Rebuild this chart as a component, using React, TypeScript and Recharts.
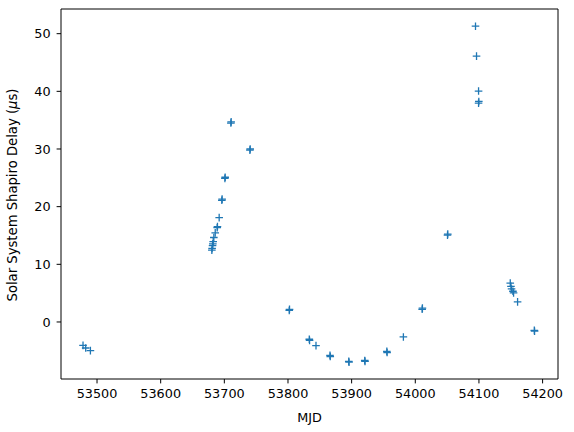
import React from 'react';
import { ScatterChart, Scatter, XAxis, YAxis, Label, ReferenceLine } from 'recharts';

// MJD of each TOA and its solar system Shapiro delay (microseconds)
const mjd = [
  53478.0, 53482.2, 53489.6,
  53680.4, 53680.8, 53681.5, 53681.9, 53682.5, 53683.5, 53685.7, 53688.8, 53689.2,
  53691.9, 53696.1, 53696.5, 53700.9, 53701.3, 53710.3, 53710.7, 53740.2, 53740.6,
  53802.0, 53802.4, 53833.5, 53833.9, 53844.0, 53866.0, 53866.4, 53895.5, 53895.9,
  53920.6, 53921.0, 53955.3, 53955.7, 53981.3, 54010.8, 54011.2, 54050.6, 54051.0,
  54094.6, 54096.2, 54099.4, 54099.4, 54099.8,
  54149.2, 54150.3, 54151.2, 54153.4, 54154.4, 54160.7, 54187.0, 54187.4,
];
const delay = [
  -4.06, -4.51, -4.97,
  12.45, 12.75, 13.25, 13.55, 13.95, 14.65, 15.45, 16.35, 16.55,
  18.1, 21.1, 21.3, 24.9, 25.1, 34.5, 34.7, 29.8, 30.0,
  2.0, 2.2, -3.0, -3.2, -4.1, -5.8, -6.0, -6.83, -6.98,
  -6.68, -6.83, -5.1, -5.3, -2.6, 2.2, 2.4, 15.05, 15.25,
  51.3, 46.1, 40.05, 37.95, 38.25,
  6.73, 6.18, 5.73, 5.33, 5.03, 3.49, -1.45, -1.6,
];

const xTicks = [53500, 53600, 53700, 53800, 53900, 54000, 54100, 54200];
const yTicks = [0, 10, 20, 30, 40, 50];

const xDomain = [53443.4, 54224.2];
const yDomain = [-9.89, 54.28];

const points = mjd.map((x, i) => ({ x, y: delay[i] }));

const BLUE = '#1f77b4';
const FONT = 'DejaVu Sans, sans-serif';
const FS = 12.8;

// matplotlib '+' marker
const Plus = (props: any) => {
  const { cx, cy } = props;
  if (cx == null || cy == null) return null;
  const r = 3.8;
  return (
    <path
      d={`M${cx - r},${cy}H${cx + r}M${cx},${cy - r}V${cy + r}`}
      stroke={BLUE}
      strokeWidth={1.3}
      fill="none"
    />
  );
};

export default function App() {
  const tick = { fill: '#000', fontSize: FS, fontFamily: FONT };
  return (
    <div style={{ position: 'absolute', left: 0, top: 0, background: '#fff' }}>
      <ScatterChart
        width={574}
        height={432}
        margin={{ top: 9, right: 16, bottom: 0, left: 0 }}
      >
        <XAxis
          dataKey="x"
          type="number"
          domain={xDomain}
          ticks={xTicks}
          allowDataOverflow
          height={53}
          tick={tick}
          tickSize={4.4}
          tickMargin={6}
          tickLine={{ stroke: '#000' }}
          axisLine={{ stroke: '#000' }}
        >
          <Label
            value="MJD"
            position="insideBottom"
            offset={10}
            style={{ fill: '#000', fontSize: FS, fontFamily: FONT }}
          />
        </XAxis>
        <YAxis
          dataKey="y"
          type="number"
          domain={yDomain}
          ticks={yTicks}
          allowDataOverflow
          width={61}
          tick={tick}
          tickSize={4.4}
          tickMargin={6}
          tickLine={{ stroke: '#000' }}
          axisLine={{ stroke: '#000' }}
          label={{
            content: () => (
              <text
                x={12}
                y={195}
                transform="rotate(-90 12 195)"
                textAnchor="middle"
                dominantBaseline="central"
                fill="#000"
                fontSize={13.2}
                fontFamily={FONT}
              >
                Solar System Shapiro Delay (<tspan fontStyle="italic">μ</tspan>s)
              </text>
            ),
          }}
        />
        {/* top and right spines */}
        <ReferenceLine y={yDomain[1]} stroke="#000" strokeWidth={1} />
        <ReferenceLine x={xDomain[1]} stroke="#000" strokeWidth={1} />
        <Scatter data={points} shape={<Plus />} isAnimationActive={false} />
      </ScatterChart>
    </div>
  );
}
